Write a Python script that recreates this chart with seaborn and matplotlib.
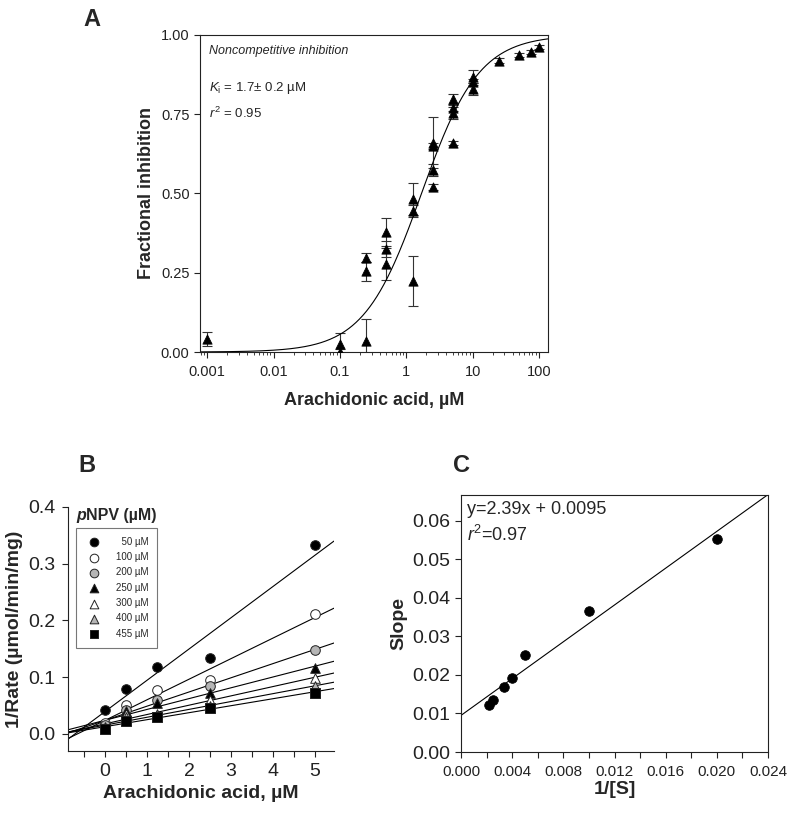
import numpy as np
import matplotlib
matplotlib.use("Agg")
import matplotlib.pyplot as plt
import matplotlib.ticker as mticker
import seaborn as sns

# ---- Panel A: fractional inhibition vs arachidonic acid (log x) ----
aa_conc = [0.001, 0.1, 0.1, 0.25, 0.25, 0.25, 0.5, 0.5, 0.5, 1.25, 1.25, 1.25,
           2.5, 2.5, 2.5, 2.5, 5, 5, 5, 5, 10, 10, 10, 25, 50, 75, 100]
frac_inh = [0.042, 0.025, 0.0, 0.298, 0.255, 0.035, 0.378, 0.325, 0.278, 0.483, 0.445, 0.224,
            0.66, 0.65, 0.574, 0.52, 0.798, 0.77, 0.754, 0.659, 0.868, 0.852, 0.83,
            0.918, 0.937, 0.946, 0.962]
frac_err = [0.022, 0.035, 0.01, 0.013, 0.03, 0.07, 0.045, 0.025, 0.05, 0.05, 0.02, 0.08,
            0.08, 0.01, 0.02, 0.01, 0.016, 0.01, 0.02, 0.005, 0.02, 0.01, 0.02,
            0.008, 0.005, 0.005, 0.006]
Ki = 1.7  # fitted noncompetitive Ki (uM)

# ---- Panel B: 1/rate vs arachidonic acid at several pNPV concentrations ----
aa_b = [0, 0.5, 1.25, 2.5, 5]
pnpv = [50, 100, 200, 250, 300, 400, 455]
inv_rate = {
    50:  [0.042, 0.080, 0.118, 0.134, 0.333],
    100: [0.019, 0.051, 0.078, 0.095, 0.212],
    200: [0.016, 0.042, 0.060, 0.085, 0.148],
    250: [0.013, 0.040, 0.055, 0.072, 0.117],
    300: [0.010, 0.036, 0.036, 0.060, 0.099],
    400: [0.010, 0.030, 0.032, 0.049, 0.085],
    455: [0.008, 0.022, 0.030, 0.045, 0.073],
}
b_fill = ["black", "white", "#b5b5b5", "black", "white", "#b5b5b5", "black"]
b_marker = ["o", "o", "o", "^", "^", "^", "s"]

# ---- Panel C: replot of slopes vs 1/[S] ----
slope_vals = [0.0553, 0.0367, 0.0252, 0.0191, 0.0170, 0.0134, 0.0122]
inv_s = [1 / c for c in pnpv]

sns.set_theme(style="ticks")
plt.rcParams['font.family'] = ['Liberation Sans', 'DejaVu Sans']
plt.rcParams['mathtext.fontset'] = 'custom'
plt.rcParams['mathtext.rm'] = 'Liberation Sans'
plt.rcParams['mathtext.it'] = 'Liberation Sans:italic'
plt.rcParams['mathtext.bf'] = 'Liberation Sans:bold'
plt.rcParams['axes.edgecolor'] = '#222222'
plt.rcParams['xtick.color'] = '#222222'
plt.rcParams['ytick.color'] = '#222222'

fig = plt.figure(figsize=(7.95, 8.13), dpi=100)

# Panel A
axA = fig.add_axes([0.2516, 0.567, 0.4377, 0.390])
axA.set_xscale("log")
axA.set_xlim(0.00078, 137)
axA.set_ylim(0, 1.0)
axA.errorbar(aa_conc, frac_inh, yerr=frac_err, fmt="none", ecolor="#333333",
             elinewidth=0.8, capsize=3.5, capthick=0.8, zorder=2)
sns.scatterplot(x=aa_conc, y=frac_inh, marker="^", color="black", edgecolor="black",
                s=45, ax=axA, zorder=3)
xfit = np.logspace(np.log10(0.00078), np.log10(137), 300)
sns.lineplot(x=xfit, y=xfit / (xfit + Ki), color="black", lw=0.8, ax=axA)
axA.set_xticks([0.001, 0.01, 0.1, 1, 10, 100])
axA.set_xticklabels(["0.001", "0.01", "0.1", "1", "10", "100"])
axA.xaxis.set_minor_locator(mticker.LogLocator(base=10, subs=np.arange(2, 10)))
axA.xaxis.set_minor_formatter(mticker.NullFormatter())
axA.set_yticks([0, 0.25, 0.5, 0.75, 1.0])
axA.yaxis.set_major_formatter(mticker.FormatStrFormatter("%.2f"))
axA.tick_params(which="major", labelsize=10.5, length=4, width=0.8, direction="out")
axA.tick_params(axis="x", which="major", pad=5.5)
axA.tick_params(which="minor", length=2.5, width=0.6, direction="out")
axA.set_xlabel("Arachidonic acid, µM", fontsize=13, fontweight="bold", labelpad=9)
axA.set_ylabel("Fractional inhibition", fontsize=13, fontweight="bold")
axA.text(0.026, 0.95, "Noncompetitive inhibition", transform=axA.transAxes,
         fontsize=9, fontstyle="italic", va="center", ha="left")
axA.text(0.026, 0.833, r"$K_{\rm i}$ = 1.7$\pm$ 0.2 µM", transform=axA.transAxes,
         fontsize=9.5, va="center", ha="left")
axA.text(0.026, 0.752, r"$r^{2}$ = 0.95", transform=axA.transAxes,
         fontsize=9.5, va="center", ha="left")
for sp in axA.spines.values():
    sp.set_linewidth(0.8)

# Panel B
axB = fig.add_axes([0.0855, 0.0763, 0.3346, 0.3001])
axB.set_xlim(-0.88, 5.45)
axB.set_ylim(-0.03, 0.4)
for conc, fc, mk in zip(pnpv, b_fill, b_marker):
    sns.regplot(x=aa_b, y=inv_rate[conc], scatter=False, ci=None, truncate=False,
                color="black", line_kws={"lw": 0.8}, ax=axB)
for conc, fc, mk in zip(pnpv, b_fill, b_marker):
    sns.scatterplot(x=aa_b, y=inv_rate[conc], marker=mk, color=fc, edgecolor="#222222",
                    linewidth=0.7, s=48, ax=axB, zorder=3,
                    label=(f"  {conc} µM" if conc < 100 else f"{conc} µM"))
sns.despine(ax=axB)
axB.set_xticks([0, 1, 2, 3, 4, 5])
axB.xaxis.set_minor_locator(mticker.MultipleLocator(0.5))
axB.set_yticks([0.0, 0.1, 0.2, 0.3, 0.4])
axB.yaxis.set_major_formatter(mticker.FormatStrFormatter("%.1f"))
axB.tick_params(which="major", labelsize=14, length=4, width=0.8, direction="out", pad=5)
axB.tick_params(which="minor", length=4, width=0.8, direction="out")
axB.set_xlabel("Arachidonic acid, µM", fontsize=14, fontweight="bold", labelpad=3)
axB.set_ylabel("1/Rate (µmol/min/mg)", fontsize=14, fontweight="bold")
leg = axB.legend(loc="upper left", bbox_to_anchor=(0.03, 0.914), fontsize=7,
                 frameon=True, fancybox=False, edgecolor="#555555", borderpad=0.9,
                 labelspacing=0.55, handletextpad=1.2, borderaxespad=0, markerscale=0.9)
leg.get_frame().set_linewidth(0.8)
tp = axB.text(0.03, 0.965, "p", transform=axB.transAxes, fontsize=11.5,
              fontweight="bold", fontstyle="italic", va="center", ha="left")
axB.annotate("NPV (µM)", xy=(1, 0.5), xycoords=tp, fontsize=11.5, fontweight="bold",
             va="center", ha="left")
for sp in axB.spines.values():
    sp.set_linewidth(0.8)

# Panel C
axC = fig.add_axes([0.5799, 0.075, 0.3862, 0.3161])
axC.set_xlim(0, 0.024)
axC.set_ylim(0, 0.0667)
sns.regplot(x=inv_s, y=slope_vals, scatter=False, ci=None, truncate=False,
            color="black", line_kws={"lw": 0.8}, ax=axC)
sns.scatterplot(x=inv_s, y=slope_vals, color="black", edgecolor="black", s=48,
                ax=axC, zorder=3)
axC.set_xticks(np.arange(0, 0.0241, 0.004))
axC.xaxis.set_major_formatter(mticker.FormatStrFormatter("%.3f"))
axC.xaxis.set_minor_locator(mticker.MultipleLocator(0.002))
axC.set_yticks(np.arange(0, 0.061, 0.01))
axC.yaxis.set_major_formatter(mticker.FormatStrFormatter("%.2f"))
axC.tick_params(axis="x", which="major", labelsize=11, length=4, width=0.8, direction="out", pad=5)
axC.tick_params(axis="y", which="major", labelsize=14, length=4, width=0.8, direction="out")
axC.tick_params(which="minor", length=4, width=0.8, direction="out")
axC.set_xlabel("1/[S]", fontsize=14, fontweight="bold", labelpad=2)
axC.set_ylabel("Slope", fontsize=14, fontweight="bold")
axC.text(0.02, 0.942, "y=2.39x + 0.0095", transform=axC.transAxes, fontsize=13,
         va="center", ha="left")
axC.text(0.02, 0.845, r"$r^{2}$=0.97", transform=axC.transAxes, fontsize=13,
         va="center", ha="left")
for sp in axC.spines.values():
    sp.set_linewidth(0.8)

# panel letters
fig.text(0.1157, 0.9766, "A", fontsize=17, fontweight="bold", ha="center", va="center")
fig.text(0.109, 0.427, "B", fontsize=17, fontweight="bold", ha="center", va="center")
fig.text(0.58, 0.427, "C", fontsize=17, fontweight="bold", ha="center", va="center")

fig.savefig("out.png", dpi=100)
